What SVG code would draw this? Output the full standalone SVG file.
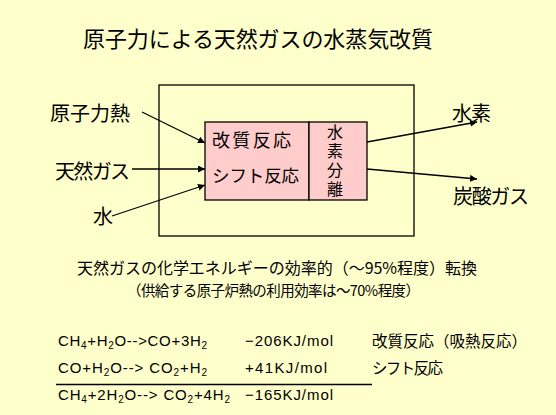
<svg xmlns="http://www.w3.org/2000/svg" width="556" height="415" viewBox="0 0 556 415">
<style>
.jp{font-family:"Noto Sans CJK JP","Noto Sans",sans-serif;fill:#000}
.eq{font-family:"Liberation Sans","Noto Sans CJK JP",sans-serif;font-size:15px;fill:#000}
.sub{font-size:10px}
.box{fill:none;stroke:#000;stroke-width:1.3}
.pink{fill:#FFCCCC;stroke:#000;stroke-width:1.3}
.conn line{stroke:#000;stroke-width:1.3;marker-end:url(#ah)}
</style>
<defs>
<marker id="ah" viewBox="0 0 10 10" refX="10" refY="5" markerWidth="7" markerHeight="7" markerUnits="userSpaceOnUse" orient="auto">
<path d="M0,0 L10,5 L0,10 z" fill="#000"/>
</marker>
</defs>
<rect width="556" height="415" fill="#FFFFCC"/>
<text class="jp" x="258" y="46.5" font-size="22" text-anchor="middle" textLength="350">原子力による天然ガスの水蒸気改質</text>

<g id="system">
<rect class="box" x="159" y="85" width="255" height="151"/>
</g>
<g id="reactor">
<rect class="pink" x="205" y="122" width="104" height="78"/>
<text class="jp" x="212" y="146.5" font-size="18" textLength="79">改質反応</text>
<text class="jp" x="212" y="181.5" font-size="17.5" textLength="87">シフト反応</text>
</g>
<g id="separator">
<rect class="pink" x="309" y="122" width="58" height="78"/>
<text class="jp" x="335" y="124" font-size="16" writing-mode="vertical-rl" letter-spacing="3">水素分離</text>
</g>
<g id="in-heat"><text class="jp" x="50" y="120.5" font-size="20" textLength="80">原子力熱</text></g>
<g id="in-gas"><text class="jp" x="55" y="178.5" font-size="20" textLength="75">天然ガス</text></g>
<g id="in-water"><text class="jp" x="93" y="224" font-size="20">水</text></g>
<g id="out-h2"><text class="jp" x="452" y="121" font-size="20" textLength="39">水素</text></g>
<g id="out-co2"><text class="jp" x="453" y="203.5" font-size="20" textLength="76">炭酸ガス</text></g>

<g class="conn" id="connectors">
<line x1="142" y1="112" x2="205" y2="143"/>
<line x1="132" y1="169" x2="205" y2="169"/>
<line x1="112" y1="216" x2="205" y2="185"/>
<line x1="367" y1="142" x2="477" y2="122"/>
<line x1="367" y1="169" x2="477" y2="179"/>
</g>

<text class="jp" x="77" y="273.5" font-size="16" textLength="400">天然ガスの化学エネルギーの効率的（～95%程度）転換</text>
<text class="jp" x="127" y="295.5" font-size="14.5" textLength="293">（供給する原子炉熱の利用効率は～70%程度）</text>

<text class="eq" x="58" y="346" textLength="149">CH<tspan class="sub" dy="3">4</tspan><tspan dy="-3">+H</tspan><tspan class="sub" dy="3">2</tspan><tspan dy="-3">O--&gt;CO+3H</tspan><tspan class="sub" dy="3">2</tspan></text>
<text class="eq" x="245" y="346" textLength="88">−206KJ/mol</text>
<text class="jp" x="372" y="346.5" font-size="15.5" textLength="155">改質反応（吸熱反応）</text>

<text class="eq" x="58" y="373" textLength="149">CO+H<tspan class="sub" dy="3">2</tspan><tspan dy="-3">O--&gt; CO</tspan><tspan class="sub" dy="3">2</tspan><tspan dy="-3">+H</tspan><tspan class="sub" dy="3">2</tspan></text>
<text class="eq" x="245" y="373" textLength="82">+41KJ/mol</text>
<text class="jp" x="372" y="373.5" font-size="15.5" textLength="71">シフト反応</text>

<line x1="56" y1="384.5" x2="372" y2="384.5" stroke="#000" stroke-width="1.5"/>

<text class="eq" x="58" y="400" textLength="172">CH<tspan class="sub" dy="3">4</tspan><tspan dy="-3">+2H</tspan><tspan class="sub" dy="3">2</tspan><tspan dy="-3">O--&gt; CO</tspan><tspan class="sub" dy="3">2</tspan><tspan dy="-3">+4H</tspan><tspan class="sub" dy="3">2</tspan></text>
<text class="eq" x="245" y="400" textLength="88">−165KJ/mol</text>
</svg>
